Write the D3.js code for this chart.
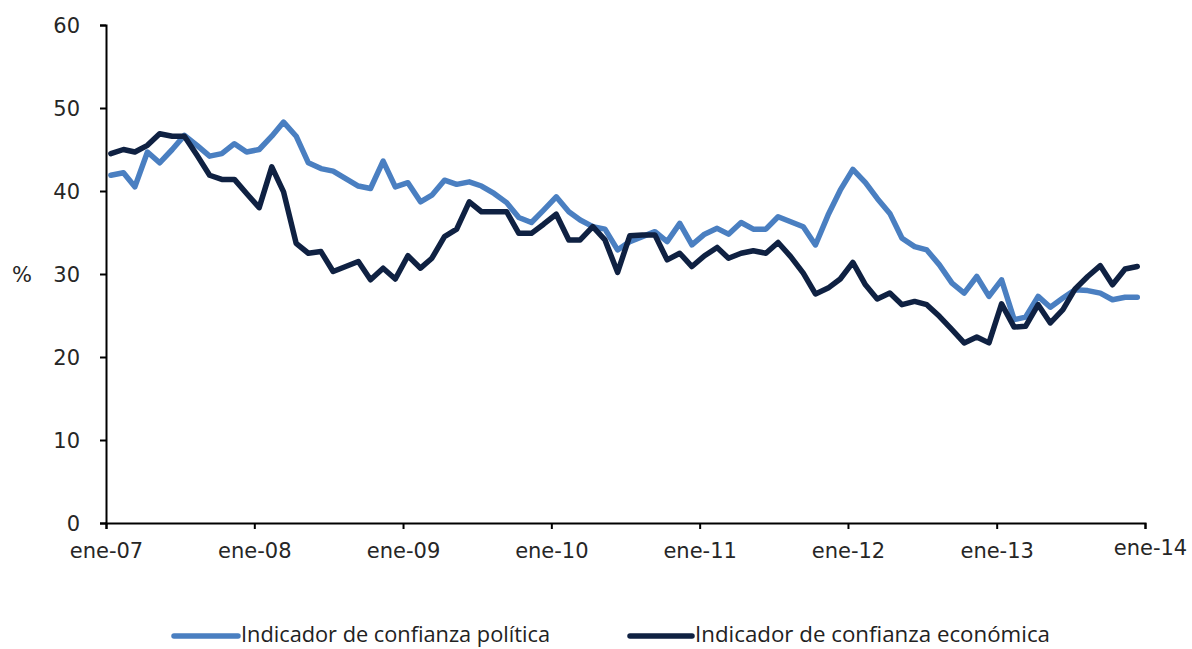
<!DOCTYPE html>
<html>
<head>
<meta charset="utf-8">
<script src="https://cdn.jsdelivr.net/npm/d3@7"></script>
<style>
  body { margin: 0; background: #fff; }
  svg { display: block; }
</style>
</head>
<body>
<div id="chart"></div>
<script>
// monthly series, ene-07 .. dic-13
const politica = [
  41.9, 42.2, 40.5, 44.7, 43.4, 45.0, 46.7, 45.5, 44.2, 44.5, 45.7, 44.7,
  45.0, 46.6, 48.3, 46.6, 43.4, 42.7, 42.4, 41.5, 40.6, 40.3, 43.6, 40.5,
  41.0, 38.7, 39.5, 41.3, 40.8, 41.1, 40.6, 39.7, 38.6, 36.8, 36.2, 37.7,
  39.3, 37.5, 36.5, 35.7, 35.4, 32.9, 33.9, 34.5, 35.1, 33.9, 36.1, 33.5,
  34.8, 35.5, 34.8, 36.2, 35.4, 35.4, 36.9, 36.3, 35.7, 33.5, 37.1, 40.1,
  42.6, 41.0, 39.1, 37.3, 34.3, 33.3, 32.9, 31.1, 28.9, 27.7, 29.7, 27.3,
  29.3, 24.5, 24.8, 27.3, 26.0, 27.1, 28.1, 28.0, 27.7, 26.9, 27.2, 27.2
];
const economica = [
  44.5, 45.0, 44.7, 45.5, 46.9, 46.6, 46.6, 44.3, 41.9, 41.4, 41.4, 39.7,
  38.0, 42.9, 39.9, 33.7, 32.5, 32.7, 30.3, 30.9, 31.5, 29.3, 30.7, 29.4,
  32.2, 30.7, 31.9, 34.5, 35.4, 38.7, 37.5, 37.5, 37.5, 34.9, 34.9, 36.0,
  37.2, 34.1, 34.1, 35.7, 34.1, 30.2, 34.6, 34.7, 34.7, 31.7, 32.5, 30.9,
  32.2, 33.2, 31.9, 32.5, 32.8, 32.5, 33.8, 32.1, 30.1, 27.6, 28.3, 29.4,
  31.4, 28.7, 27.0, 27.7, 26.3, 26.7, 26.3, 24.9, 23.3, 21.7, 22.4, 21.7,
  26.4, 23.6, 23.7, 26.3, 24.1, 25.7, 28.2, 29.7, 31.0, 28.7, 30.6, 30.9
];
const yTicks = [0, 10, 20, 30, 40, 50, 60];
const xTickLabels = ["ene-07", "ene-08", "ene-09", "ene-10", "ene-11", "ene-12", "ene-13", "ene-14"];
const seriesNames = ["Indicador de confianza política", "Indicador de confianza económica"];
const colors = ["#4a7fc1", "#0f2142"];

const width = 1192, height = 649;
const plotLeft = 106, plotRight = 1145, plotTop = 25, plotBottom = 523;

const svg = d3.select("#chart").append("svg")
  .attr("width", width)
  .attr("height", height);

// points sit a little after the start of each month on a date axis
const months = d3.timeMonth.range(new Date(2007, 0, 1), new Date(2014, 0, 1))
  .map(d => d3.timeDay.offset(d, 12));
const yearTicks = d3.timeYear.range(new Date(2007, 0, 1), new Date(2014, 0, 2));

const x = d3.scaleTime()
  .domain([new Date(2007, 0, 1), new Date(2014, 0, 1)])
  .range([plotLeft, plotRight]);
const y = d3.scaleLinear()
  .domain([0, 60])
  .range([plotBottom, plotTop]);

const font = "'DejaVu Sans', Lato, sans-serif";

// Y axis
const yAxis = svg.append("g")
  .attr("transform", "translate(" + plotLeft + ",0)")
  .call(d3.axisLeft(y).tickValues(yTicks).tickSize(6).tickPadding(20));
yAxis.select(".domain").attr("stroke", "#000").attr("stroke-width", 2);
yAxis.selectAll(".tick line").attr("stroke", "#000").attr("stroke-width", 2);
yAxis.selectAll("text")
  .attr("font-family", font).attr("font-size", 21).attr("fill", "#262626")
  .attr("dy", "0.34em");

// X axis
const xAxis = svg.append("g")
  .attr("transform", "translate(0," + plotBottom + ")")
  .call(d3.axisBottom(x).tickValues(yearTicks).tickSize(6).tickPadding(14)
    .tickFormat((d, i) => xTickLabels[i]));
xAxis.select(".domain").attr("stroke", "#000").attr("stroke-width", 2);
xAxis.selectAll(".tick line").attr("stroke", "#000").attr("stroke-width", 2);
xAxis.selectAll("text")
  .attr("font-family", font).attr("font-size", 21).attr("fill", "#262626");
// last label sits a little right and higher, as in the source
xAxis.selectAll(".tick text").filter((d, i) => i === xTickLabels.length - 1)
  .attr("x", 5).attr("y", 17);

// unit label
svg.append("text")
  .attr("x", 22).attr("y", y(30))
  .attr("dy", "0.4em")
  .attr("text-anchor", "middle")
  .attr("font-family", font).attr("font-size", 21).attr("fill", "#262626")
  .text("%");

// lines
const line = d3.line()
  .x((d, i) => x(months[i]))
  .y(d => y(d));

[politica, economica].forEach((s, k) => {
  svg.append("path")
    .datum(s)
    .attr("fill", "none")
    .attr("stroke", colors[k])
    .attr("stroke-width", 5.5)
    .attr("stroke-linejoin", "round")
    .attr("stroke-linecap", "round")
    .attr("d", line);
});

// legend
const legendFont = "'Liberation Sans Narrow', 'Open Sans', sans-serif";
const legendItems = [
  { x0: 174, x1: 238, tx: 241, w: 309 },
  { x0: 630, x1: 692, tx: 695, w: 355 }
];
legendItems.forEach((it, k) => {
  const g = svg.append("g");
  g.append("line")
    .attr("x1", it.x0).attr("x2", it.x1)
    .attr("y1", 636).attr("y2", 636)
    .attr("stroke", colors[k]).attr("stroke-width", 5.5)
    .attr("stroke-linecap", "round");
  g.append("text")
    .attr("x", it.tx).attr("y", 642)
    .attr("font-family", legendFont).attr("font-size", 22).attr("fill", "#222")
    .attr("textLength", it.w).attr("lengthAdjust", "spacingAndGlyphs")
    .text(seriesNames[k]);
});
</script>
</body>
</html>
